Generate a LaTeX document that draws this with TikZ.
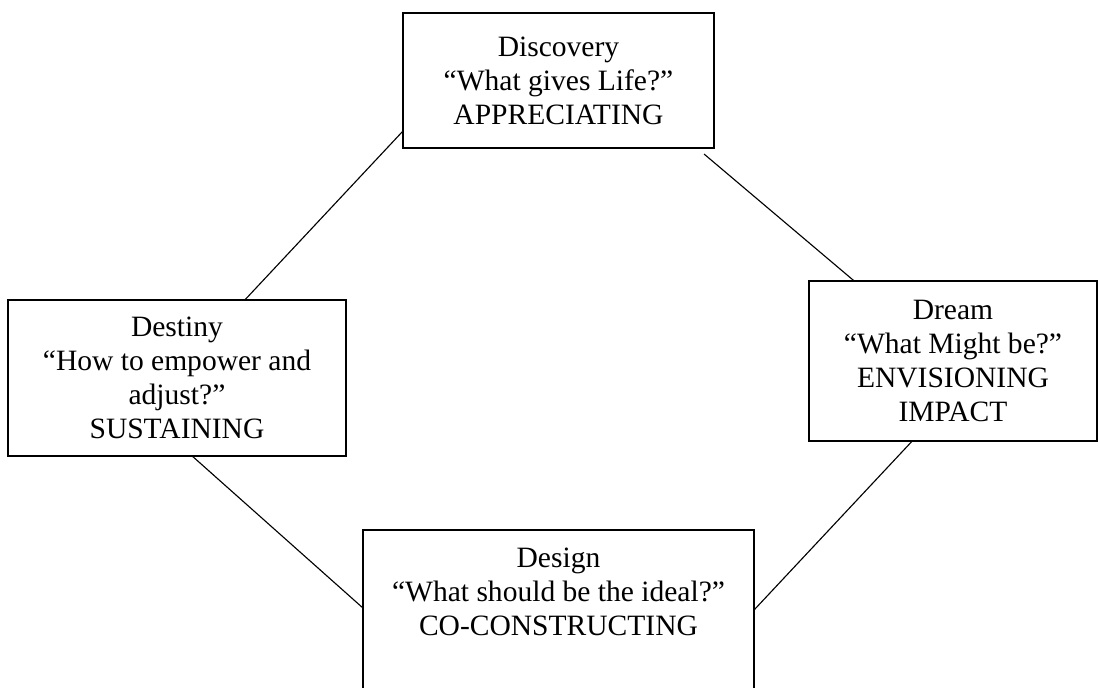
\documentclass[tikz,border=0pt]{standalone}
\usepackage{fontspec}
\setmainfont{Liberation Serif}
\usepackage{tikz}

\begin{document}
\begin{tikzpicture}[x=0.025cm, y=-0.025cm,
        phase/.style={draw, line width=1pt, align=center, inner sep=0pt, outer sep=0pt,
            font=\fontsize{21}{24.2}\selectfont},
        link/.style={line width=0.8pt}]
        \clip (0, 0) rectangle (1100, 688);

        \node[phase, minimum width=7.775cm, minimum height=3.375cm] (discovery) at (558.5, 80.5)
            {Discovery\\“What gives Life?”\\APPRECIATING};
        \node[phase, minimum width=7.2cm, minimum height=4cm] (dream) at (953, 361)
            {Dream\\“What Might be?”\\ENVISIONING\\IMPACT};
        \node[phase, minimum width=8.45cm, minimum height=3.9cm] (destiny) at (177, 378)
            {Destiny\\“How to empower and\\adjust?”\\SUSTAINING};
        \node[phase, anchor=north, minimum width=9.775cm, inner ysep=0.44cm, text depth=4cm] (design)
            at (558.5, 530) {Design\\“What should be the ideal?”\\CO-CONSTRUCTING};

        \draw[link] (discovery.198) -- (destiny.49);
        \draw[link] ([shift={(-10,6)}]discovery.south east) -- (dream.141);
        \draw[link] (destiny.281.5) -- ([shift={(0,78)}]design.north west);
        \draw[link] (dream.243.4) -- ([shift={(0,80)}]design.north east);

\end{tikzpicture}
\end{document}
